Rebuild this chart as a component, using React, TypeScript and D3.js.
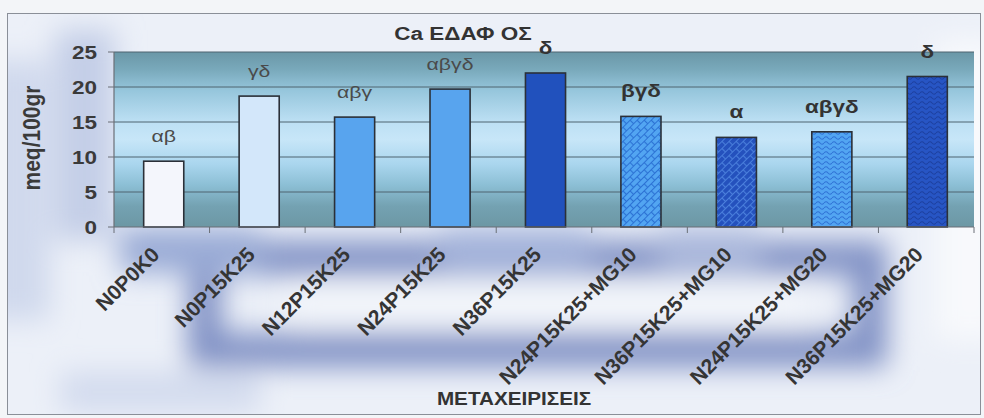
import React from "react";
import * as d3 from "d3";

const categories = [
  "N0P0K0",
  "N0P15K25",
  "N12P15K25",
  "N24P15K25",
  "N36P15K25",
  "N24P15K25+MG10",
  "N36P15K25+MG10",
  "N24P15K25+MG20",
  "N36P15K25+MG20",
];
const values = [9.4, 18.7, 15.7, 19.7, 22.0, 15.8, 12.8, 13.6, 21.5];
const letters = ["αβ", "γδ", "αβγ", "αβγδ", "δ", "βγδ", "α", "αβγδ", "δ"];
const yTicks = [0, 5, 10, 15, 20, 25];
const title = "Ca ΕΔΑΦ ΟΣ";
const yTitle = "meq/100gr";
const xTitle = "ΜΕΤΑΧΕΙΡΙΣΕΙΣ";

const fills = [
  "#f4f6fc",
  "#d3e7fa",
  "#58a4ee",
  "#58a4ee",
  "#2151bd",
  "url(#brickLight)",
  "url(#brickDark)",
  "url(#waveLight)",
  "url(#waveDark)",
];
const boldLetter = [false, false, false, false, true, true, true, true, true];

const W = 984;
const H = 418;
const SX = 1.25;
const FONT = "Arial, 'Liberation Sans', sans-serif";

export default function App() {
  const x = d3
    .scaleBand<string>()
    .domain(categories)
    .range([115, 974])
    .paddingInner(0.58)
    .paddingOuter(0.29);
  const y = d3.scaleLinear().domain([0, 25]).range([227, 52]);
  const x0 = 114;
  const x1 = 974;

  return (
    <svg
      width={W}
      height={H}
      style={{ position: "absolute", left: 0, top: 0 }}
      fontFamily={FONT}
    >
      <defs>
        <linearGradient id="plotBg" x1="0" y1="0" x2="0" y2="1">
          <stop offset="0" stopColor="#6a97a7" />
          <stop offset="0.1" stopColor="#79a9bb" />
          <stop offset="0.22" stopColor="#96c6dc" />
          <stop offset="0.4" stopColor="#bde0f4" />
          <stop offset="0.5" stopColor="#c7e6f8" />
          <stop offset="0.64" stopColor="#aad6ee" />
          <stop offset="0.76" stopColor="#8cbfd5" />
          <stop offset="0.88" stopColor="#74a2b2" />
          <stop offset="1" stopColor="#6c97a4" />
        </linearGradient>
        <filter id="blur" x="-30%" y="-30%" width="160%" height="160%">
          <feGaussianBlur stdDeviation="14" />
        </filter>
        <clipPath id="frameClip">
          <rect x={8} y={14} width={972} height={400} />
        </clipPath>
        <pattern
          id="brickLight"
          patternUnits="userSpaceOnUse"
          width="10"
          height="10"
          patternTransform="rotate(-45)"
        >
          <rect width="10" height="10" fill="#52a5f2" />
          <path
            d="M0,0.5H10M0,5.5H10M0.5,0V5.5M5.5,5.5V10"
            stroke="#2c72d4"
            strokeWidth="1.2"
            fill="none"
          />
        </pattern>
        <pattern
          id="brickDark"
          patternUnits="userSpaceOnUse"
          width="10"
          height="10"
          patternTransform="rotate(-45)"
        >
          <rect width="10" height="10" fill="#2451bd" />
          <path
            d="M0,0.5H10M0,5.5H10M0.5,0V5.5M5.5,5.5V10"
            stroke="#4a7fdc"
            strokeWidth="1.2"
            fill="none"
          />
        </pattern>
        <pattern id="waveLight" patternUnits="userSpaceOnUse" width="8" height="5">
          <rect width="8" height="5" fill="#52a5f2" />
          <path
            d="M0,3 Q2,0.5 4,3 T8,3"
            stroke="#2f72d6"
            strokeWidth="1.1"
            fill="none"
          />
        </pattern>
        <pattern id="waveDark" patternUnits="userSpaceOnUse" width="8" height="5">
          <rect width="8" height="5" fill="#2755c4" />
          <path
            d="M0,3 Q2,0.5 4,3 T8,3"
            stroke="#1c40a0"
            strokeWidth="1.1"
            fill="none"
          />
        </pattern>
      </defs>

      {/* page background */}
      <rect x={0} y={0} width={W} height={H} fill="#f3f5f8" />

      {/* chart area background with blurred frame picture */}
      <g clipPath="url(#frameClip)">
        <rect x={7} y={13} width={973} height={402} fill="#ecf0f8" />
        <g filter="url(#blur)">
          <rect x={-20} y={60} width={70} height={260} fill="#d0d9ed" />
          <rect x={55} y={30} width={60} height={210} fill="#c0cbe6" opacity={0.9} />
          <rect
            x={205}
            y={258}
            width={665}
            height={92}
            fill="none"
            stroke="#8091c5"
            strokeWidth={34}
          />
          <rect x={120} y={228} width={140} height={45} fill="#9aabd6" />
          <rect x={440} y={228} width={150} height={40} fill="#a3b2da" />
          <rect x={660} y={228} width={100} height={40} fill="#aab8dc" />
          <rect x={935} y={40} width={70} height={300} fill="#f8f9fc" />
          <rect x={60} y={372} width={200} height={40} fill="#d3dbee" />
          <rect x={290} y={288} width={520} height={36} fill="#f3f6fb" />
        </g>
      </g>
      <rect
        x={7.5}
        y={13.5}
        width={973}
        height={401}
        fill="none"
        stroke="#8a8f98"
        strokeWidth={1}
      />

      {/* plot area */}
      <rect x={x0} y={52} width={x1 - x0} height={175} fill="url(#plotBg)" />
      {yTicks
        .filter((t) => t > 0)
        .map((t) => (
          <line
            key={"g" + t}
            x1={x0}
            x2={x1}
            y1={y(t)}
            y2={y(t)}
            stroke="#4e6470"
            strokeWidth={1}
          />
        ))}

      {/* bars */}
      {categories.map((c, i) => (
        <rect
          key={c}
          x={(x(c) as number) + 1}
          y={y(values[i])}
          width={x.bandwidth()}
          height={y(0) - y(values[i])}
          fill={fills[i]}
          stroke="#2b3038"
          strokeWidth={1.6}
        />
      ))}

      {/* axes */}
      <line x1={x0} x2={x0} y1={52} y2={227} stroke="#6a6f76" strokeWidth={1.2} />
      <line x1={x0} x2={x1} y1={227} y2={227} stroke="#6a6f76" strokeWidth={1.2} />
      {yTicks.map((t) => (
        <line
          key={"yt" + t}
          x1={x0 - 6}
          x2={x0}
          y1={y(t)}
          y2={y(t)}
          stroke="#6a6f76"
          strokeWidth={1}
        />
      ))}
      {d3.range(categories.length + 1).map((k) => (
        <line
          key={"xt" + k}
          x1={x0 + k * ((x1 - x0) / categories.length)}
          x2={x0 + k * ((x1 - x0) / categories.length)}
          y1={227}
          y2={233}
          stroke="#6a6f76"
          strokeWidth={1}
        />
      ))}

      {/* y tick labels */}
      {yTicks.map((t) => (
        <text
          key={"yl" + t}
          transform={`translate(97,${y(t) + 6.5}) scale(${SX},1)`}
          textAnchor="end"
          fontSize={18}
          fontWeight="bold"
          fill="#3a3a3a"
        >
          {t}
        </text>
      ))}

      {/* y title */}
      <text
        transform={`translate(40,138) scale(1.1,1) rotate(-90)`}
        textAnchor="middle"
        fontSize={21}
        fontWeight="bold"
        fill="#3a3a3a"
      >
        {yTitle}
      </text>

      {/* title */}
      <text
        transform={`translate(463,40) scale(${SX},1)`}
        textAnchor="middle"
        fontSize={18}
        fontWeight="bold"
        fill="#333"
      >
        {title}
      </text>

      {/* significance letters */}
      {categories.map((c, i) => (
        <text
          key={"l" + c}
          transform={`translate(${(x(c) as number) + 1 + x.bandwidth() / 2},${
            y(values[i]) - 19
          }) scale(${SX},1)`}
          textAnchor="middle"
          fontSize={boldLetter[i] ? 18 : 17}
          fontWeight={boldLetter[i] ? "bold" : "normal"}
          fill={boldLetter[i] ? "#333" : "#4a4a4a"}
        >
          {letters[i]}
        </text>
      ))}

      {/* x labels */}
      {categories.map((c) => {
        const cx = (x(c) as number) + 1 + x.bandwidth() / 2;
        return (
          <text
            key={"xl" + c}
            transform={`translate(${cx - 3},256) rotate(-45)`}
            textAnchor="end"
            fontSize={21}
            fontWeight="bold"
            fill="#353535"
          >
            {c}
          </text>
        );
      })}

      {/* x title */}
      <text
        transform={`translate(514,405) scale(1.15,1)`}
        textAnchor="middle"
        fontSize={18}
        fontWeight="bold"
        fill="#333"
      >
        {xTitle}
      </text>
    </svg>
  );
}
